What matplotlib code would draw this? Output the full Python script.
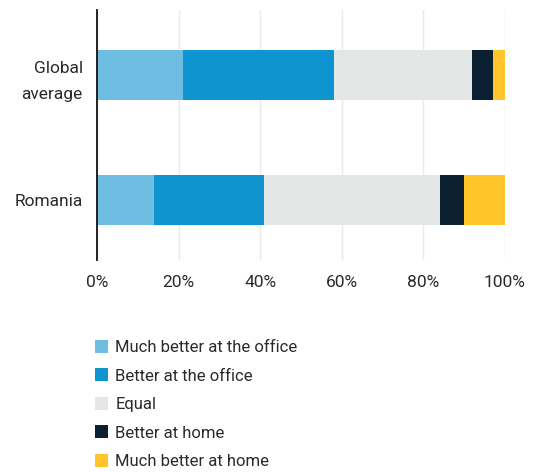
import matplotlib.pyplot as plt
from matplotlib.patches import Patch
import numpy as np

plt.rcParams['font.family'] = ['Roboto', 'DejaVu Sans']

groups = ['Romania', 'Global\naverage']
categories = ['Much better at the office', 'Better at the office', 'Equal',
              'Better at home', 'Much better at home']
shares = {
    'Much better at the office': [14, 21],
    'Better at the office': [27, 37],
    'Equal': [43, 34],
    'Better at home': [6, 5],
    'Much better at home': [10, 3],
}
colors = ['#6FBDE3', '#0E95D0', '#E5E7E6', '#0A1F30', '#FFC52A']
xticks = [0, 20, 40, 60, 80, 100]

fig = plt.figure(figsize=(5.33, 4.72), dpi=100)
ax = fig.add_axes([0.1826, 0.449, 0.7644, 0.530])

y = np.arange(len(groups))
left = np.zeros(len(groups))
for cat, col in zip(categories, colors):
    vals = np.array(shares[cat], dtype=float)
    ax.barh(y, vals, left=left, height=0.4, color=col, zorder=3)
    left += vals

ax.set_xlim(0, 100)
ax.set_ylim(-0.48, 1.52)
ax.set_xticks(xticks)
ax.set_xticklabels([f'{t}%' for t in xticks], fontsize=12.5, color='#2a2a2a')
ax.set_yticks(y)
ax.set_yticklabels(groups, fontsize=12.5, color='#2a2a2a', linespacing=1.85)
ax.tick_params(length=0)
ax.tick_params(axis='x', pad=11)
ax.tick_params(axis='y', pad=10.5)
ax.grid(axis='x', color='#EAEAEA', linewidth=1.0, zorder=0)
for s in ['top', 'right', 'bottom']:
    ax.spines[s].set_visible(False)
ax.spines['left'].set_color('#111111')
ax.spines['left'].set_linewidth(1.3)
ax.spines['left'].set_zorder(4)

handles = [Patch(facecolor=c, edgecolor='none', label=l) for l, c in zip(categories, colors)]
fig.legend(handles=handles, loc='upper left', bbox_to_anchor=(0.165, 0.294),
           frameon=False, fontsize=12, handlelength=0.8, handleheight=0.8,
           handletextpad=0.45, labelspacing=0.8, borderaxespad=0,
           labelcolor='#2a2a2a')

fig.savefig('out.png', dpi=100)
